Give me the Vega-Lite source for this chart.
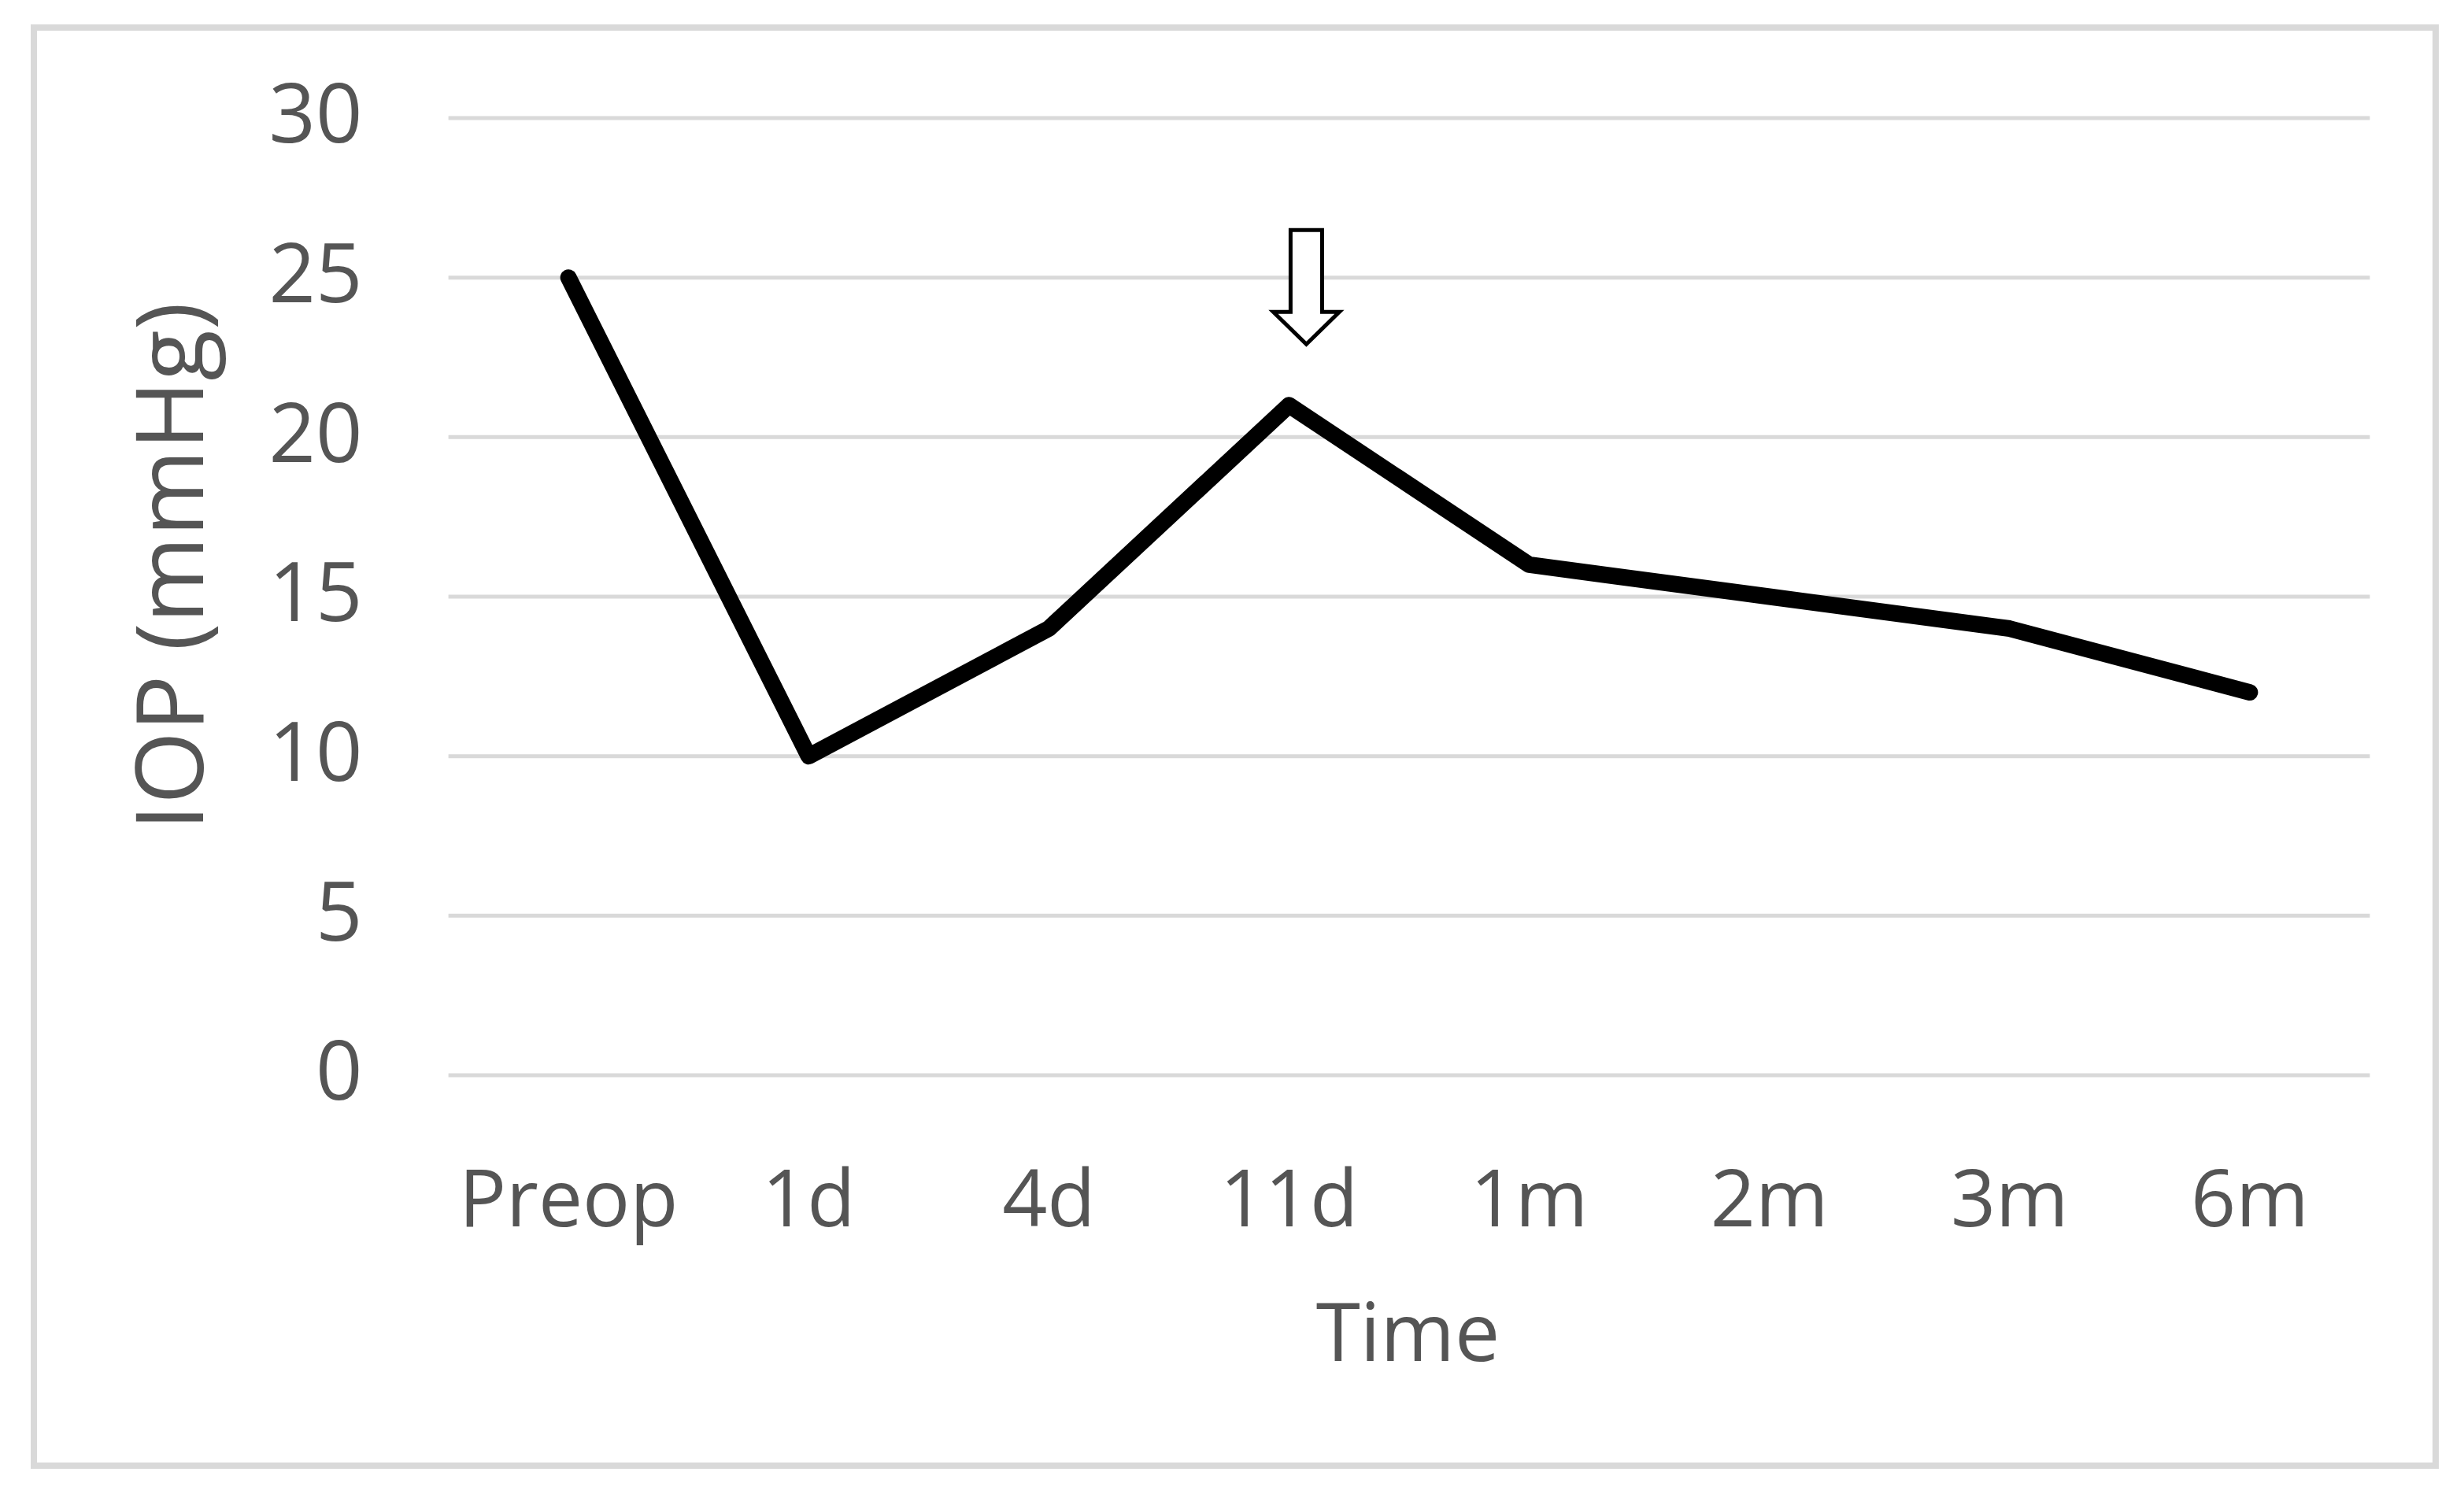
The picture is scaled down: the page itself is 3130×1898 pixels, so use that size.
{
  "$schema": "https://vega.github.io/schema/vega-lite/v6.json",
  "width": 3051,
  "height": 1827,
  "autosize": {"type": "none"},
  "padding": {"left": 43, "top": 35, "right": 36, "bottom": 36},
  "background": "white",
  "config": {
    "view": {"stroke": "#d9d9d9", "strokeWidth": 8},
    "font": "Open Sans"
  },
  "datasets": {
    "iop": [
      {"time": "Preop", "iop": 25},
      {"time": "1d", "iop": 10},
      {"time": "4d", "iop": 14},
      {"time": "11d", "iop": 21},
      {"time": "1m", "iop": 16},
      {"time": "2m", "iop": 15},
      {"time": "3m", "iop": 14},
      {"time": "6m", "iop": 12}
    ],
    "grid": [
      {"iop": 0}, {"iop": 5}, {"iop": 10}, {"iop": 15}, {"iop": 20}, {"iop": 25}, {"iop": 30}
    ],
    "arrow": [
      {"time": "11d", "iop": 24.7}
    ]
  },
  "layer": [
    {
      "data": {"name": "grid"},
      "mark": {"type": "rule", "color": "#d9d9d9", "strokeWidth": 5},
      "encoding": {
        "y": {
          "field": "iop",
          "type": "quantitative",
          "title": "IOP (mmHg)",
          "scale": {"domain": [-12.237, 32.837], "nice": false, "zero": false},
          "axis": {
            "orient": "left",
            "offset": -417,
            "domain": false,
            "ticks": false,
            "tickSize": 0,
            "grid": false,
            "labelPadding": 0,
            "values": [0, 5, 10, 15, 20, 25, 30],
            "labelFont": "Open Sans",
            "labelFontSize": 104,
            "labelColor": "#555555",
            "labelBaseline": "middle",
            "labelLimit": 1000,
            "title": "IOP (mmHg)",
            "titleFont": "Open Sans",
            "titleFontSize": 119,
            "titleFontWeight": "normal",
            "titleColor": "#555555",
            "titleAngle": -90,
            "titleX": -203,
            "titleY": 684,
            "titleAlign": "center",
            "titleBaseline": "alphabetic",
            "titleLimit": 2000
          }
        },
        "x": {
          "datum": "Preop",
          "type": "nominal",
          "bandPosition": 0,
          "title": "Time",
          "scale": {
            "type": "band",
            "domain": ["Preop", "1d", "4d", "11d", "1m", "2m", "3m", "6m"],
            "paddingInner": 0,
            "paddingOuter": 1,
            "align": 0.863
          },
          "axis": {
            "orient": "bottom",
            "offset": -305,
            "domain": false,
            "ticks": false,
            "tickSize": 0,
            "grid": false,
            "labelPadding": 0,
            "labelAngle": 0,
            "labelBaseline": "alphabetic",
            "labelFont": "Open Sans",
            "labelFontSize": 100,
            "labelColor": "#555555",
            "labelLimit": 1000,
            "labelOverlap": false,
            "title": "Time",
            "titleFont": "Open Sans",
            "titleFontSize": 102,
            "titleFontWeight": "normal",
            "titleColor": "#555555",
            "titleX": 1745,
            "titleY": 171,
            "titleAlign": "center",
            "titleBaseline": "alphabetic"
          }
        },
        "x2": {"datum": "6m", "bandPosition": 1}
      }
    },
    {
      "data": {"name": "iop"},
      "mark": {"type": "line", "color": "#000000", "strokeWidth": 21, "strokeCap": "round", "strokeJoin": "round"},
      "encoding": {
        "x": {"field": "time", "type": "nominal", "bandPosition": 0.5, "title": "Time", "sort": null},
        "y": {"field": "iop", "type": "quantitative", "title": "IOP (mmHg)"}
      }
    },
    {
      "data": {"name": "arrow"},
      "mark": {
        "type": "point",
        "shape": "M -0.276 -1 L 0.276 -1 L 0.276 0.434 L 0.579 0.434 L 0 1 L -0.579 0.434 L -0.276 0.434 Z",
        "size": 21025,
        "filled": true,
        "fill": "white",
        "stroke": "black",
        "strokeWidth": 5,
        "opacity": 1,
        "fillOpacity": 1,
        "strokeOpacity": 1
      },
      "encoding": {
        "x": {"field": "time", "type": "nominal", "bandPosition": 0.572, "title": "Time"},
        "y": {"field": "iop", "type": "quantitative", "title": "IOP (mmHg)"}
      }
    }
  ]
}
